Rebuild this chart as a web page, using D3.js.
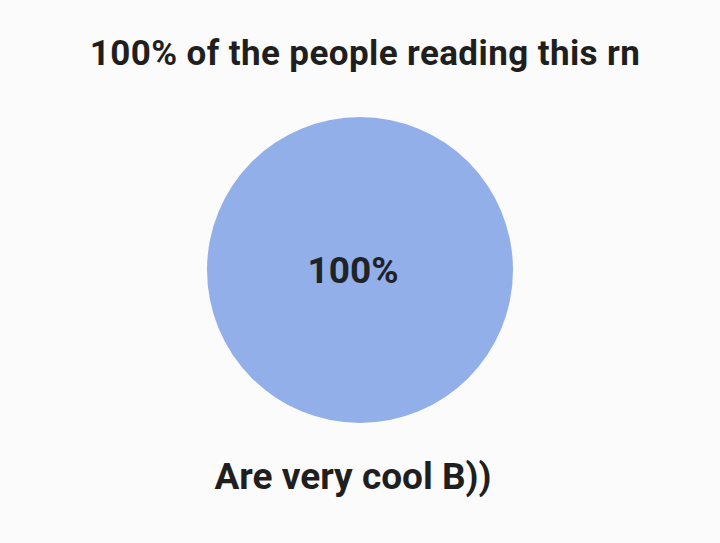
<!DOCTYPE html>
<html><head><meta charset="utf-8">
<script src="https://cdn.jsdelivr.net/npm/d3@7"></script>
<style>html,body{margin:0;padding:0;background:#fcfbfb;}svg{display:block;}</style>
</head><body>
<svg id="c" width="720" height="543"></svg>
<script>
const categories = ["Are very cool B))"];
const values = [100];
const colors = ["#93afe9"];
const title = "100% of the people reading this rn";

const W = 720, H = 543;
const svg = d3.select("#c");
svg.append("rect").attr("width", W).attr("height", H).attr("fill", "#fcfbfb");

const cx = 360, cy = 270, r = 153;
const pie = d3.pie().sort(null).value(d => d)(values);
const arc = d3.arc().innerRadius(0).outerRadius(r);
const total = d3.sum(values);

const g = svg.append("g").attr("transform", `translate(${cx},${cy})`);
g.selectAll("path").data(pie).join("path")
  .attr("d", arc).attr("fill", (d, i) => colors[i]);
g.selectAll("text").data(pie).join("text")
  .attr("x", d => values.length > 1 ? arc.centroid(d)[0] : -7)
  .attr("y", d => values.length > 1 ? arc.centroid(d)[1] : 0)
  .attr("dy", "0.35em")
  .attr("text-anchor", "middle")
  .attr("font-family", "Roboto, sans-serif").attr("font-weight", 700)
  .attr("font-size", 37).attr("fill", "#1f2328")
  .text(d => d3.format(".0%")(d.value / total));

svg.append("text").attr("x", 365).attr("y", 65)
  .attr("text-anchor", "middle")
  .attr("font-family", "Roboto, sans-serif").attr("font-weight", 700)
  .attr("font-size", 35).attr("letter-spacing", 0.4)
  .attr("fill", "#1f1f1f").text(title);

svg.append("text").attr("x", 353).attr("y", 489)
  .attr("text-anchor", "middle")
  .attr("font-family", "Roboto, sans-serif").attr("font-weight", 700)
  .attr("font-size", 37).attr("fill", "#1f1f1f").text(categories[0]);
</script>
</body></html>
